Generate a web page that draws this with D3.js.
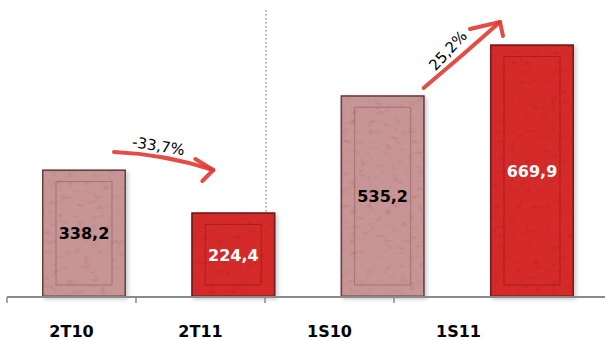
<!DOCTYPE html>
<html><head><meta charset="utf-8">
<script src="https://cdn.jsdelivr.net/npm/d3@7"></script>
<style>body{margin:0;background:#fff}svg{display:block}</style>
</head><body>
<svg id="c" width="607" height="340"></svg>
<script>
const categories = ["2T10", "2T11", "1S10", "1S11"];
const values = [338.2, 224.4, 535.2, 669.9];
const valueLabels = ["338,2", "224,4", "535,2", "669,9"];
const changes = ["-33,7%", "25,2%"];

const svg = d3.select("#c");
const defs = svg.append("defs");

// subtle texture filter
const f = defs.append("filter").attr("id","tex").attr("x","0").attr("y","0").attr("width","1").attr("height","1");
f.append("feTurbulence").attr("type","fractalNoise").attr("baseFrequency","0.12 0.2").attr("numOctaves","3").attr("seed","7").attr("result","n");
f.append("feColorMatrix").attr("in","n").attr("type","matrix")
 .attr("values","0 0 0 0 0.3  0 0 0 0 0  0 0 0 0 0  0 0 0 -1.6 0.72").attr("result","a");
f.append("feComposite").attr("in","a").attr("in2","SourceGraphic").attr("operator","in").attr("result","m");
f.append("feComponentTransfer").attr("in","m").attr("result","m2")
 .append("feFuncA").attr("type","linear").attr("slope","0.45");
f.append("feMerge").selectAll("feMergeNode").data(["SourceGraphic","m2"]).join("feMergeNode").attr("in",d=>d);

const sh = defs.append("filter").attr("id","shadow").attr("x","-0.2").attr("y","-0.2").attr("width","1.4").attr("height","1.4");
sh.append("feDropShadow").attr("dx","2").attr("dy","2").attr("stdDeviation","2").attr("flood-color","#000").attr("flood-opacity","0.22");

const y = d3.scaleLinear().domain([0, 788]).range([297, 0]);
const xLab = d3.scaleBand().domain(categories).range([7, 523]);
const xBar = d3.scalePoint().domain(categories).range([84, 532]);
const bw = 84;

const fills = ["#c79595", "#d52c2c", "#c79595", "#d52c2c"];
const borders = ["#5e4444", "#6e1a1a", "#5e4444", "#6e1a1a"];
const inner = ["#9a6a6a", "#a31c1c", "#9a6a6a", "#a31c1c"];
const txtCol = ["#000", "#fff", "#000", "#fff"];

// dotted separator
svg.append("line").attr("x1", xLab("1S10")+1).attr("x2", xLab("1S10")+1).attr("y1", 10).attr("y2", 297)
  .attr("stroke", "#666").attr("stroke-width", 1).attr("stroke-dasharray", "1.5,2.5");

const g = svg.append("g");
categories.forEach((c, i) => {
  const x0 = xBar(c) - bw/2, yt = y(values[i]), h = y(0) - yt;
  const bg = g.append("g").attr("filter","url(#shadow)");
  bg.append("rect").attr("x", x0).attr("y", yt).attr("width", bw).attr("height", h)
    .attr("fill", fills[i]).attr("filter","url(#tex)");
  bg.append("rect").attr("x", x0+0.75).attr("y", yt+0.75).attr("width", bw-1.5).attr("height", h-1.5)
    .attr("fill","none").attr("stroke", borders[i]).attr("stroke-width", 1.5);
  bg.append("rect").attr("x", x0+14).attr("y", yt+12).attr("width", bw-28).attr("height", Math.max(0,h-24))
    .attr("fill","none").attr("stroke", inner[i]).attr("stroke-width", 1).attr("opacity", 0.8);
  g.append("text").attr("x", xBar(c)).attr("y", (yt + y(0))/2 + 6).attr("text-anchor","middle")
    .attr("font-family","DejaVu Sans").attr("font-weight","bold").attr("font-size", 16)
    .attr("fill", txtCol[i]).text(valueLabels[i]);
});

// axis
const ax = svg.append("g").attr("transform","translate(0,297)");
ax.append("line").attr("x1", 7).attr("x2", 605).attr("y1", 0).attr("y2", 0).attr("stroke","#8a8a8a").attr("stroke-width",2);
const tickXs = categories.map(c => xLab(c));
ax.selectAll(".tk").data(tickXs).join("line").attr("x1", d=>d).attr("x2", d=>d).attr("y1",0).attr("y2",6)
  .attr("stroke","#8a8a8a").attr("stroke-width",1.5);
ax.selectAll(".lb").data(categories).join("text").attr("x", d=>xLab(d)+xLab.bandwidth()/2).attr("y", 40)
  .attr("text-anchor","middle").attr("font-family","DejaVu Sans").attr("font-weight","bold").attr("font-size",16)
  .attr("fill","#000").text(d=>d);

// arrows
const red = "#e03a32";
function arrow(p0, p1, ctrl, headA, headB){
  svg.append("path").attr("d", `M${p0[0]},${p0[1]} Q${ctrl[0]},${ctrl[1]} ${p1[0]},${p1[1]}`)
    .attr("fill","none").attr("stroke", red).attr("stroke-width", 4).attr("stroke-linecap","round").attr("opacity",0.9);
  svg.append("path").attr("d", `M${headA[0]},${headA[1]} L${p1[0]},${p1[1]} L${headB[0]},${headB[1]}`)
    .attr("fill","none").attr("stroke", red).attr("stroke-width", 4).attr("stroke-linecap","round").attr("stroke-linejoin","round").attr("opacity",0.9);
}
// arrow 1: 2T10 -> 2T11
const a1x0 = xBar("2T10") + 30, a1x1 = xBar("2T11") - 20;
arrow([a1x0, 152], [a1x1, 170], [(a1x0+a1x1)/2, 154], [a1x1-18, 159], [a1x1-11, 181]);
svg.append("text").attr("transform", `translate(${(a1x0+a1x1)/2 - 6},151) rotate(9)`).attr("text-anchor","middle")
  .attr("font-family","DejaVu Sans").attr("font-size",15).attr("fill","#000").text(changes[0]);

// arrow 2: 1S10 -> 1S11
const a2x0 = xBar("1S10") + 41, a2x1 = xBar("1S11") - 32;
arrow([a2x0, 88], [a2x1, 22], [(a2x0+a2x1)/2, 56], [a2x1-30, 29], [a2x1+3, 36]);
svg.append("text").attr("transform", `translate(${(a2x0+a2x1)/2 - 10},54) rotate(-47)`).attr("text-anchor","middle")
  .attr("font-family","DejaVu Sans").attr("font-size",15).attr("fill","#000").text(changes[1]);
</script>
</body></html>
